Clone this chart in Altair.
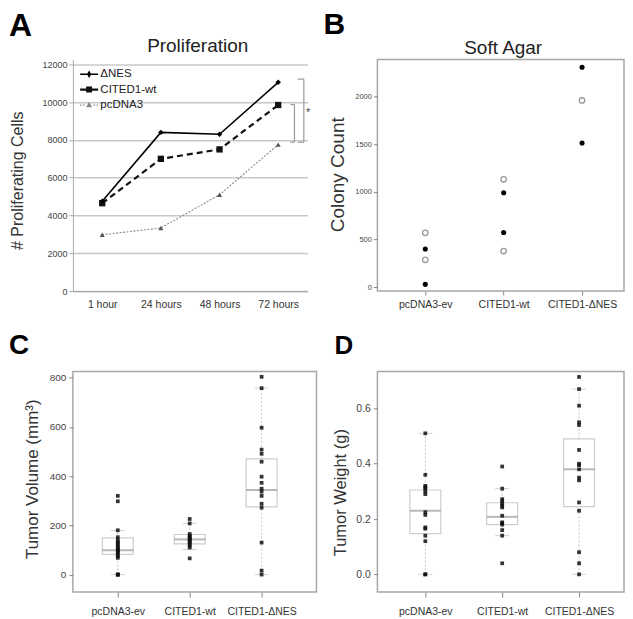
import altair as alt
import pandas as pd

FONT = "Liberation Sans"

# ---------------- Panel A : Proliferation ----------------
hours = ["1 hour", "24 hours", "48 hours", "72 hours"]
series_names = ["ΔNES", "CITED1-wt", "pcDNA3"]
nes_cells = [4750, 8400, 8300, 11050]
wt_cells = [4650, 7000, 7500, 9850]
pc_cells = [2980, 3340, 5100, 7750]
prolif_ticks = [0, 2000, 4000, 6000, 8000, 10000, 12000]
outer_bracket = [11220, 7880]
inner_bracket = [9870, 7880]
star_level = [9420]

# ---------------- Panel B : Soft agar ----------------
groups = ["pcDNA3-ev", "CITED1-wt", "CITED1-ΔNES"]
agar_solid_group = ["pcDNA3-ev", "pcDNA3-ev", "CITED1-wt", "CITED1-wt", "CITED1-ΔNES", "CITED1-ΔNES"]
agar_solid_count = [399, 28, 989, 572, 2307, 1512]
agar_open_group = ["pcDNA3-ev", "pcDNA3-ev", "CITED1-wt", "CITED1-wt", "CITED1-ΔNES"]
agar_open_count = [569, 286, 1131, 378, 1958]
agar_ticks = [0, 500, 1000, 1500, 2000]

# ---------------- Panel C : Tumor volume ----------------
vol_pc = [320, 298, 180, 152, 140, 132, 125, 118, 112, 105, 100, 96, 90, 82, 75, 68, 0, 0, 0]
vol_wt = [226, 208, 165, 158, 152, 147, 143, 138, 132, 125, 118, 110, 66]
vol_nes = [804, 758, 597, 508, 491, 459, 398, 373, 349, 337, 320, 288, 272, 130, 16, 0]
vol_q1 = [82, 125, 275]
vol_med = [99, 143, 344]
vol_q3 = [149, 163, 470]
vol_lo = [0, 102, 0]
vol_hi = [179, 208, 758]
vol_ticks = [0, 200, 400, 600, 800]

# ---------------- Panel D : Tumor weight ----------------
wt_pc = [0.51, 0.36, 0.32, 0.315, 0.31, 0.30, 0.29, 0.225, 0.215, 0.17, 0.165, 0.14, 0.12, 0.0, 0.0]
wt_wt = [0.39, 0.31, 0.272, 0.264, 0.256, 0.248, 0.242, 0.212, 0.188, 0.185, 0.18, 0.16, 0.14, 0.04]
wt_nes = [0.714, 0.67, 0.61, 0.55, 0.54, 0.45, 0.40, 0.395, 0.38, 0.35, 0.34, 0.26, 0.23, 0.08, 0.04, 0.0]
w_q1 = [0.147, 0.18, 0.245]
w_med = [0.23, 0.208, 0.38]
w_q3 = [0.305, 0.259, 0.49]
w_lo = [0.0, 0.14, 0.0]
w_hi = [0.51, 0.31, 0.67]
w_ticks = [0.0, 0.2, 0.4, 0.6]

legend_paths = [
    "M-1.8,-0.15L1.8,-0.15L1.8,0.15L-1.8,0.15Z M0,-0.75L0.45,0L0,0.75L-0.45,0Z",
    "M-1.8,-0.22L1.8,-0.22L1.8,0.22L-1.8,0.22Z M-0.6,-0.6L0.6,-0.6L0.6,0.6L-0.6,0.6Z",
    "M-1.8,-0.12L-1.5,-0.12L-1.5,0.12L-1.8,0.12Z M-1.2,-0.12L-0.9,-0.12L-0.9,0.12L-1.2,0.12Z "
    "M0.9,-0.12L1.2,-0.12L1.2,0.12L0.9,0.12Z M1.5,-0.12L1.8,-0.12L1.8,0.12L1.5,0.12Z "
    "M0,-0.65L0.6,0.45L-0.6,0.45Z",
]
legend_colors = ["#000000", "#111111", "#8a8a8a"]


def text_layer(txt, x, y, size, weight="normal", align="left", color="#000000"):
    return alt.Chart(pd.DataFrame({"t": [txt]})).mark_text(
        align=align, baseline="alphabetic", fontSize=size, fontWeight=weight,
        font=FONT, color=color
    ).encode(text="t:N", x=alt.value(x), y=alt.value(y))


# ================= Panel A =================
W_A, H_1 = 235, 232
xA = alt.Scale(type="point", domain=hours, padding=0.5)
yA = alt.Scale(domain=[0, 12264], nice=False, zero=False)
xA_axis = alt.Axis(title=None, labelAngle=0, ticks=False, domainColor="#aaaaaa", domainWidth=1.2,
                   labelFontSize=10.5, labelPadding=8, labelColor="#333333")
yA_axis = alt.Axis(values=prolif_ticks, grid=True, gridColor="#c8c8c8", gridWidth=1.5,
                   domainColor="#aaaaaa", tickColor="#aaaaaa", tickSize=4, labelFontSize=9,
                   labelColor="#444444", labelPadding=2, format="d",
                   title="# Proliferating Cells", titleFontSize=16, titleFontWeight="normal",
                   titleColor="#333333", titleAngle=270, titleAlign="center",
                   titleBaseline="middle", titleX=-55, titleY=121)

dfA = pd.DataFrame({
    "hour": hours * 3,
    "series": [s for s in series_names for _ in hours],
    "cells": nes_cells + wt_cells + pc_cells,
})


def xa_enc():
    return alt.X("hour:N", scale=xA, sort=hours, axis=xA_axis)


def ya_enc(field):
    return alt.Y(field, scale=yA, axis=yA_axis)


baseA = alt.Chart(dfA)
line_pc = baseA.transform_filter(alt.datum.series == "pcDNA3").mark_line(
    color="#8a8a8a", strokeWidth=1.1, strokeDash=[2, 1.5],
    point=alt.OverlayMarkDef(shape="triangle-up", size=26, filled=True, color="#555555")
).encode(x=xa_enc(), y=ya_enc("cells:Q"))
line_wt = baseA.transform_filter(alt.datum.series == "CITED1-wt").mark_line(
    color="#111111", strokeWidth=2.2, strokeDash=[6, 4],
    point=alt.OverlayMarkDef(shape="square", size=40, filled=True, color="#111111")
).encode(x=xa_enc(), y=ya_enc("cells:Q"))
line_nes = baseA.transform_filter(alt.datum.series == "ΔNES").mark_line(
    color="#000000", strokeWidth=1.6,
    point=alt.OverlayMarkDef(shape="diamond", size=30, filled=True, color="#000000")
).encode(x=xa_enc(), y=ya_enc("cells:Q"))

leg = alt.Legend(title=None, orient="none", legendX=10.5, legendY=9, labelFontSize=11.5,
                 labelFont=FONT, labelColor="#222222", symbolSize=100, symbolStrokeWidth=0,
                 symbolOpacity=1, labelOffset=5.5, rowPadding=2.5, padding=0)
legend_layer = alt.Chart(pd.DataFrame({"series": series_names})).mark_point(
    filled=True, opacity=0, size=100
).encode(
    shape=alt.Shape("series:N", scale=alt.Scale(domain=series_names, range=legend_paths), legend=leg),
    color=alt.Color("series:N", scale=alt.Scale(domain=series_names, range=legend_colors), legend=leg),
)

brk_df = pd.DataFrame({"hour": ["72 hours", "72 hours"],
                       "top": [outer_bracket[0], inner_bracket[0]],
                       "bot": [outer_bracket[1], inner_bracket[1]],
                       "which": ["outer", "inner"]})
cap_outer = pd.DataFrame({"hour": ["72 hours"] * 2, "level": outer_bracket})
cap_inner = pd.DataFrame({"hour": ["72 hours"] * 2, "level": inner_bracket})

brk_outer = alt.Chart(brk_df).transform_filter(alt.datum.which == "outer").mark_rule(
    xOffset=25.7, color="#999999", strokeWidth=1.2
).encode(x=xa_enc(), y=ya_enc("top:Q"), y2="bot:Q")
brk_inner = alt.Chart(brk_df).transform_filter(alt.datum.which == "inner").mark_rule(
    xOffset=16.3, color="#999999", strokeWidth=1.2
).encode(x=xa_enc(), y=ya_enc("top:Q"), y2="bot:Q")
caps_o = alt.Chart(cap_outer).mark_rule(
    xOffset=19.5, x2Offset=25.7, color="#999999", strokeWidth=1.2
).encode(x=xa_enc(), x2="hour:N", y=ya_enc("level:Q"))
caps_i = alt.Chart(cap_inner).mark_rule(
    xOffset=12.3, x2Offset=16.3, color="#999999", strokeWidth=1.2
).encode(x=xa_enc(), x2="hour:N", y=ya_enc("level:Q"))
star = alt.Chart(pd.DataFrame({"hour": ["72 hours"], "level": star_level, "s": ["*"]})).mark_text(
    xOffset=30, fontSize=11, font=FONT, color="#444444", baseline="middle"
).encode(x=xa_enc(), y=ya_enc("level:Q"), text="s:N")

panelA = alt.layer(
    line_pc, line_wt, line_nes, brk_outer, brk_inner, caps_o, caps_i, star, legend_layer,
    text_layer("Proliferation", 125, -7.5, 19, align="center", color="#222222"),
    text_layer("A", -64, -23.5, 32, weight="bold"),
).properties(width=W_A, height=H_1)

# ================= Panel B =================
W_B = 247
xB = alt.Scale(type="point", domain=groups, padding=0.573, align=0.533)
yB = alt.Scale(domain=[-42, 2389], nice=False, zero=False)
xB_axis = alt.Axis(title=None, labelAngle=0, domain=False, ticks=True, tickSize=4,
                   tickColor="#888888", labelFontSize=10.5, labelPadding=4, labelColor="#333333")
yB_axis = alt.Axis(values=agar_ticks, domain=False, ticks=True, tickSize=4, tickColor="#888888",
                   labelFontSize=7.5, labelPadding=2, labelColor="#444444", grid=False, format="d",
                   title="Colony Count", titleFontSize=19, titleFontWeight="normal",
                   titleColor="#333333", titleAngle=270, titleAlign="center",
                   titleBaseline="middle", titleX=-40, titleY=115)

solid_df = pd.DataFrame({"group": agar_solid_group, "count": agar_solid_count})
open_df = pd.DataFrame({"group": agar_open_group, "count": agar_open_count})
open_pts = alt.Chart(open_df).mark_point(
    shape="circle", size=30, filled=False, color="#9a9a9a", strokeWidth=1.3, opacity=1
).encode(x=alt.X("group:N", scale=xB, axis=xB_axis), y=alt.Y("count:Q", scale=yB, axis=yB_axis))
solid_pts = alt.Chart(solid_df).mark_point(
    shape="circle", size=26, filled=True, color="#000000", opacity=1
).encode(x=alt.X("group:N", scale=xB, axis=xB_axis), y=alt.Y("count:Q", scale=yB, axis=yB_axis))

panelB = alt.layer(
    open_pts, solid_pts,
    text_layer("Soft Agar", 126, -5.8, 19, align="center", color="#222222"),
    text_layer("B", -54, -25.5, 30, weight="bold"),
).properties(width=W_B, height=H_1,
             view=alt.ViewBackground(stroke="#a8a8a8", strokeWidth=1.5))


# ================= Panels C / D (box plots) =================
def box_panel(points, q1, med, q3, lo, hi, ydom, yticks, title, tfs, tx, ty, lab_size,
              width, pad, align, letter, lx, ly, lsize, fmt):
    xs = alt.Scale(type="point", domain=groups, padding=pad, align=align)
    ys = alt.Scale(domain=ydom, nice=False, zero=False)
    x_axis = alt.Axis(title=None, labelAngle=0, domain=False, ticks=True, tickSize=5,
                      tickColor="#888888", labelFontSize=10.5, labelPadding=9,
                      labelColor="#333333")
    y_axis = alt.Axis(values=yticks, domain=False, ticks=True, tickSize=4, tickColor="#888888",
                      labelFontSize=lab_size, labelPadding=3, labelColor="#444444", grid=False,
                      format=fmt, title=title, titleFontSize=tfs, titleFontWeight="normal",
                      titleColor="#333333", titleAngle=270, titleAlign="center",
                      titleBaseline="middle", titleX=tx, titleY=ty)
    stats = pd.DataFrame({"group": groups, "q1": q1, "med": med, "q3": q3, "lo": lo, "hi": hi})
    pts = pd.DataFrame({
        "group": [g for g, vals in zip(groups, points) for _ in vals],
        "value": [v for vals in points for v in vals],
    })

    def xe():
        return alt.X("group:N", scale=xs, axis=x_axis)

    def ye(f):
        return alt.Y(f, scale=ys, axis=y_axis)

    base = alt.Chart(stats)
    whisk = base.mark_rule(color="#c4c4c4", strokeDash=[2, 2], strokeWidth=1).encode(
        x=xe(), y=ye("lo:Q"), y2="hi:Q")
    box = base.mark_bar(size=31, fill="white", stroke="#cdcdcd", strokeWidth=1.2).encode(
        x=xe(), y=ye("q1:Q"), y2="q3:Q")
    median = base.mark_tick(size=31, thickness=2, color="#9a9a9a").encode(
        x=xe(), y=ye("med:Q"))
    cap_hi = base.mark_tick(size=14, thickness=1, color="#bdbdbd").encode(
        x=xe(), y=ye("hi:Q"))
    cap_lo = base.mark_tick(size=14, thickness=1, color="#bdbdbd").encode(
        x=xe(), y=ye("lo:Q"))
    dots = alt.Chart(pts).mark_square(size=14, color="#111111", opacity=0.85).encode(
        x=xe(), y=ye("value:Q"))
    return alt.layer(
        whisk, box, median, cap_hi, cap_lo, dots,
        text_layer(letter, lx, ly, lsize, weight="bold"),
    ).properties(width=width, height=221,
                 view=alt.ViewBackground(stroke="#a8a8a8", strokeWidth=1.5))


panelC = box_panel([vol_pc, vol_wt, vol_nes], vol_q1, vol_med, vol_q3, vol_lo, vol_hi,
                   [-71, 826], vol_ticks, "Tumor Volume (mm³)", 17, -40.5, 107.5, 10,
                   244, 0.694, 0.45, "C", -64, -17.5, 28, "d")
panelD = box_panel([wt_pc, wt_wt, wt_nes], w_q1, w_med, w_q3, w_lo, w_hi,
                   [-0.064, 0.734], w_ticks, "Tumor Weight (g)", 16.5, -36.5, 121, 10.5,
                   247, 0.604, 0.516, "D", -43, -17, 26, ".1f")

chart = alt.concat(panelA, panelB, panelC, panelD, columns=2).properties(
    spacing={"row": 80.5, "column": 61},
    bounds="flush",
    padding={"left": 0, "top": 0, "right": 0, "bottom": 0},
).configure(font=FONT).configure_view(stroke=None).configure_axis(
    labelFont=FONT, titleFont=FONT)

chart.save("out.html", embed_options={"renderer": "svg", "actions": False})
